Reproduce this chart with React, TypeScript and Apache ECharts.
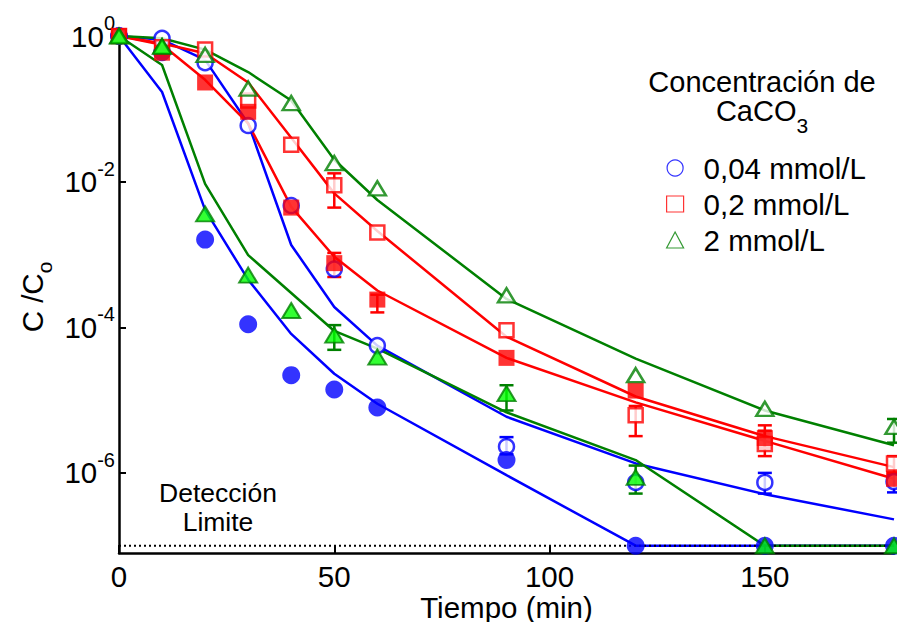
import React, { useEffect, useRef } from 'react';
import * as echarts from 'echarts';

// ---- data (C/Co versus time) ----
const times = [0, 10, 20, 30, 40, 50, 60, 90, 120, 150, 180];
const xTickValues = [0, 50, 100, 150];
const detectionLimit = 1e-7;

// measured points
const blueOpen = [1, 0.93, 0.43, 0.059, 4.7e-3, 6.3e-4, 5.6e-5, 2.3e-6, 7.4e-7, 7.4e-7, 7.6e-7];
const blueFilled = [1, 0.6, 1.6e-3, 1.1e-4, 2.2e-5, 1.4e-5, 7.9e-6, 1.5e-6, 1e-7, 1e-7, 1e-7];
const redOpen = [1, 0.7, 0.65, 0.13, 0.032, 8.9e-3, 2.0e-3, 9.1e-5, 6.2e-6, 2.5e-6, 1.35e-6];
const redFilled = [1, 0.59, 0.23, 0.091, 4.4e-3, 7.6e-4, 2.4e-4, 3.8e-5, 1.35e-5, 3.0e-6, 8.3e-7];
const greenOpen = [1, 0.72, 0.55, 0.19, 0.12, 0.018, 8.1e-3, 2.75e-4, 2.2e-5, 7.6e-6, 4.3e-6];
const greenFilled = [1, 0.72, 3.6e-3, 5.2e-4, 1.7e-4, 7.8e-5, 3.9e-5, 1.23e-5, 8.7e-7, 1e-7, 1e-7];

// model fits
const blueFitOpen = [1, 0.89, 0.47, 0.063, 1.35e-3, 1.9e-4, 5.6e-5, 5.9e-6, 1.35e-6, 5.1e-7, 2.3e-7];
const blueFitFilled = [1, 0.17, 4.1e-3, 4.5e-4, 8.1e-5, 2.3e-5, 8.9e-6, 9.3e-7, 1e-7, 1e-7, 1e-7];
const redFitOpen = [1, 0.79, 0.58, 0.23, 0.04, 6.9e-3, 2.1e-3, 7.4e-5, 1.12e-5, 3.2e-6, 1.2e-6];
const redFitFilled = [1, 0.76, 0.25, 0.063, 4.5e-3, 9.3e-4, 3.2e-4, 3.8e-5, 9.3e-6, 2.75e-6, 8.3e-7];
const greenFitOpen = [1, 0.93, 0.65, 0.32, 0.13, 0.02, 5.6e-3, 2.45e-4, 3.7e-5, 7.2e-6, 2.4e-6];
const greenFitFilled = [1, 0.4, 9.3e-3, 9.8e-4, 2.95e-4, 8.9e-5, 5.1e-5, 6.8e-6, 1.5e-6, 1e-7, 1e-7];

// error bars: [time, low, high]
const blueOpenErr = [[90, 1.8e-6, 3.1e-6], [150, 5.2e-7, 1.0e-6], [180, 5.4e-7, 9.5e-7]];
const redOpenErr = [[50, 4.4e-3, 1.3e-2], [120, 3.2e-6, 8.3e-6], [150, 1.7e-6, 3.8e-6], [180, 1.0e-6, 1.7e-6]];
const redFilledErr = [[50, 4.9e-4, 1.05e-3], [60, 1.6e-4, 2.8e-4], [150, 2.2e-6, 4.5e-6]];
const greenOpenErr = [[180, 2.6e-6, 5.5e-6]];
const greenFilledErr = [[50, 4.9e-5, 1.07e-4], [90, 7.2e-6, 1.6e-5], [120, 5.2e-7, 1.26e-6]];

const legendNames = ['0,04 mmol/L', '0,2 mmol/L', '2 mmol/L'];

const FONT = '"Liberation Sans", Arial, Helvetica, sans-serif';
const FS = 29.5;
const BLUE = '#0000ff';
const RED = '#ff0000';
const GREEN = '#008000';
const LIME = '#00ff00';

const pairs = (ys: number[]) => times.map((t, i) => [t, ys[i]]);

function fitLine(ys: number[], color: string) {
  return {
    type: 'line',
    data: pairs(ys),
    symbol: 'none',
    lineStyle: { color, width: 2.5 },
    z: 2,
    silent: true,
  };
}

function errorBars(data: number[][], color: string) {
  return {
    type: 'custom',
    data,
    encode: { x: 0, y: [1, 2] },
    clip: false,
    z: 3,
    silent: true,
    renderItem: (_params: any, api: any) => {
      const x = api.value(0);
      const a = api.coord([x, api.value(1)]);
      const b = api.coord([x, api.value(2)]);
      const w = 7;
      const st = { stroke: color, lineWidth: 2.5 };
      return {
        type: 'group',
        children: [
          { type: 'line', shape: { x1: a[0], y1: a[1], x2: b[0], y2: b[1] }, style: st },
          { type: 'line', shape: { x1: a[0] - w, y1: a[1], x2: a[0] + w, y2: a[1] }, style: st },
          { type: 'line', shape: { x1: b[0] - w, y1: b[1], x2: b[0] + w, y2: b[1] }, style: st },
        ],
      };
    },
  };
}

function markers(name: string, ys: number[], symbol: string, size: any, itemStyle: any) {
  return {
    type: 'scatter',
    name,
    data: pairs(ys),
    symbol,
    symbolSize: size,
    itemStyle,
    clip: false,
    z: 4,
  };
}

export default function App() {
  const ref = useRef<HTMLDivElement>(null);

  useEffect(() => {
    if (!ref.current) return;
    const chart = echarts.init(ref.current, null, { renderer: 'svg' });

    const option: any = {
      animation: false,
      backgroundColor: '#ffffff',
      textStyle: { fontFamily: FONT },
      grid: { left: 119, right: 3, top: 36, bottom: 69, containLabel: false, outerBoundsMode: 'none' },
      xAxis: {
        type: 'value',
        min: 0,
        max: 180,
        interval: 50,
        axisLine: { show: true, onZero: false, lineStyle: { color: '#000', width: 2.5 } },
        axisTick: { show: true, inside: true, length: 8, customValues: xTickValues, lineStyle: { color: '#000', width: 2 } },
        axisLabel: { customValues: xTickValues, fontSize: FS, color: '#000', margin: 8, fontFamily: FONT },
        splitLine: { show: false },
        name: 'Tiempo (min)',
        nameLocation: 'middle',
        nameGap: 39,
        nameMoveOverlap: false,
        nameTextStyle: { fontSize: FS, color: '#000', fontFamily: FONT, verticalAlign: 'top' },
      },
      yAxis: {
        type: 'log',
        logBase: 100,
        min: Math.pow(10, -7.1),
        max: 1,
        axisLine: { show: true, onZero: false, lineStyle: { color: '#000', width: 2.5 } },
        axisTick: { show: true, inside: true, length: 7, lineStyle: { color: '#000', width: 2 } },
        axisLabel: {
          margin: 4,
          color: '#000',
          showMinLabel: false,
          formatter: (v: number) => {
            const e = Math.log10(v);
            const r = Math.round(e);
            if (Math.abs(e - r) > 0.01) return '';
            return '{b|10}{s|' + r + '}';
          },
          rich: {
            b: { fontSize: FS, lineHeight: 46, fontFamily: FONT, color: '#000' },
            s: { fontSize: 20, verticalAlign: 'top', fontFamily: FONT, color: '#000' },
          },
        },
        splitLine: { show: false },
      },
      legend: {
        orient: 'vertical',
        left: 661,
        top: 148,
        itemWidth: 17,
        itemHeight: 16,
        itemGap: 6,
        selectedMode: false,
        textStyle: { fontSize: FS, color: '#000', fontFamily: FONT, padding: [0, 0, 0, 15] },
        data: [
          { name: legendNames[0], icon: 'circle', itemStyle: { color: '#fff', borderColor: BLUE, borderWidth: 1.2 } },
          { name: legendNames[1], icon: 'rect', itemStyle: { color: '#fff', borderColor: RED, borderWidth: 1.2 } },
          { name: legendNames[2], icon: 'triangle', itemStyle: { color: '#fff', borderColor: GREEN, borderWidth: 1.2 } },
        ],
      },
      graphic: [
        {
          type: 'text',
          x: 32,
          y: 297,
          rotation: Math.PI / 2,
          style: {
            text: '{m|C /C}{s|o}',
            align: 'center',
            verticalAlign: 'middle',
            rich: {
              m: { fontSize: FS, lineHeight: 46, fontFamily: FONT, fill: '#000' },
              s: { fontSize: 21, verticalAlign: 'bottom', fontFamily: FONT, fill: '#000' },
            },
          },
        },
        {
          type: 'text',
          x: 762,
          y: 67,
          style: {
            text: '{t|Concentración de}\n{m|CaCO}{s|3}',
            align: 'center',
            verticalAlign: 'top',
            rich: {
              t: { fontSize: 29, lineHeight: 29, fontFamily: FONT, fill: '#000' },
              m: { fontSize: 29, verticalAlign: 'top', fontFamily: FONT, fill: '#000' },
              s: { fontSize: 21, lineHeight: 40, verticalAlign: 'bottom', fontFamily: FONT, fill: '#000' },
            },
          },
        },
        {
          type: 'text',
          x: 218,
          y: 507,
          style: {
            text: 'Detección\nLimite',
            align: 'center',
            verticalAlign: 'middle',
            fontSize: 26.5,
            lineHeight: 29,
            fontFamily: FONT,
            fill: '#000',
          },
        },
      ],
      series: [
        fitLine(blueFitFilled, BLUE),
        fitLine(blueFitOpen, BLUE),
        fitLine(redFitOpen, RED),
        fitLine(redFitFilled, RED),
        fitLine(greenFitOpen, GREEN),
        fitLine(greenFitFilled, GREEN),
        {
          type: 'line',
          data: [[times[0], detectionLimit], [times[times.length - 1], detectionLimit]],
          symbol: 'none',
          lineStyle: { color: '#000', width: 2, type: [2, 3] },
          z: 2,
          silent: true,
        },
        errorBars(blueOpenErr, BLUE),
        markers(legendNames[0], blueOpen, 'circle', 15, { color: '#fff', borderColor: BLUE, borderWidth: 2.5 }),
        markers('0,04 mmol/L (b)', blueFilled, 'circle', 18, { color: BLUE }),
        errorBars(redOpenErr, RED),
        markers(legendNames[1], redOpen, 'rect', 14, { color: '#fff', borderColor: RED, borderWidth: 2.5 }),
        errorBars(redFilledErr, RED),
        markers('0,2 mmol/L (b)', redFilled, 'rect', 16, { color: RED }),
        errorBars(greenOpenErr, GREEN),
        markers(legendNames[2], greenOpen, 'triangle', [17, 14], { color: '#fff', borderColor: GREEN, borderWidth: 2.5 }),
        errorBars(greenFilledErr, GREEN),
        markers('2 mmol/L (b)', greenFilled, 'triangle', [18, 15], { color: LIME, borderColor: GREEN, borderWidth: 2 }),
      ],
    };

    chart.setOption(option);
    return () => chart.dispose();
  }, []);

  return (
    <div
      ref={ref}
      style={{ position: 'fixed', left: 0, top: 0, width: 897, height: 622, background: '#fff' }}
    />
  );
}
